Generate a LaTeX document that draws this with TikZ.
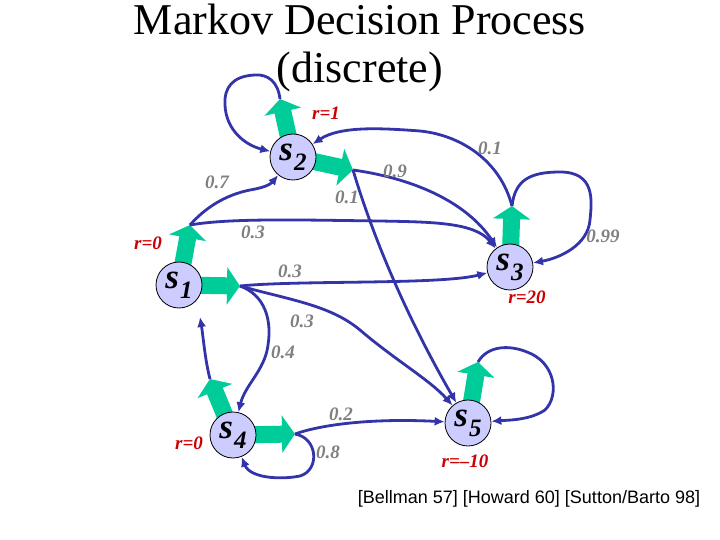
\documentclass[tikz,border=0pt]{standalone}
\usepackage{fontspec}
\setmainfont{Liberation Serif}
\newfontfamily\citefont{Liberation Sans}
\usetikzlibrary{arrows.meta}
\definecolor{stfill}{RGB}{204,204,255}
\definecolor{actgreen}{RGB}{0,204,153}
\definecolor{trblue}{RGB}{51,51,170}
\definecolor{probgray}{RGB}{128,128,128}
\definecolor{rewred}{RGB}{204,0,0}
\newcommand{\stlabel}[1]{\fontsize{35}{35}\selectfont\bfseries\itshape s\kern1pt\raisebox{-10pt}{\fontsize{25}{25}\selectfont #1}}
\tikzset{
  state/.style={circle, draw=black, line width=0.8pt, fill=stfill, minimum size=46pt, inner sep=0pt},
  action/.style={draw=actgreen, line width=17pt, -{Triangle[length=13pt,width=37pt]}},
  trans/.style={draw=trblue, line width=2.8pt, -{Latex[length=10pt,width=9pt]}},
  prob/.style={text=probgray, font=\fontsize{19}{19}\selectfont\bfseries\itshape, inner sep=0pt},
  rew/.style={text=rewred, font=\fontsize{19}{19}\selectfont\bfseries\itshape, inner sep=0pt},
  title/.style={font=\fontsize{44}{44}\selectfont, anchor=base, inner sep=0pt},
}
\begin{document}
\begin{tikzpicture}[x=1pt,y=-1pt]
\useasboundingbox (0,0) rectangle (720,540);
% title
\node[title] (t1) at (360,35) {Markov Decision Process};
\node[title] (t2) at (360,83) {(discrete)};
% state centres and action tips
\coordinate (c1) at (179,285);
\coordinate (c2) at (293,157);
\coordinate (c3) at (510,267);
\coordinate (c4) at (233,435);
\coordinate (c5) at (468,423);
\coordinate (a2u) at (280,99);
\coordinate (a2r) at (353,170);
\coordinate (a3u) at (512,206);
\coordinate (a1u) at (190,225);
\coordinate (a1r) at (240,286);
\coordinate (a4u) at (210,379);
\coordinate (a4r) at (295,434);
\coordinate (a5u) at (478,362);
\coordinate (e41) at (200,317);
% actions
\draw[action] (c2) -- (a2u);
\draw[action] (c2) -- (a2r);
\draw[action] (c3) -- (a3u);
\draw[action] (c1) -- (a1u);
\draw[action] (c1) -- (a1r);
\draw[action] (c4) -- (a4u);
\draw[action] (c4) -- (a4r);
\draw[action] (c5) -- (a5u);
% states
\node[state] (s1) at (c1) {\stlabel{1}};
\node[state] (s2) at (c2) {\stlabel{2}};
\node[state] (s3) at (c3) {\stlabel{3}};
\node[state] (s4) at (c4) {\stlabel{4}};
\node[state] (s5) at (c5) {\stlabel{5}};
% transitions
\draw[trans] (a2u) .. controls (278,82) and (268,74) .. (255,75) .. controls (232,76) and (224,88) .. (225,105) .. controls (226,130) and (245,145) .. (s2);
\draw[trans] (a2r) .. controls (410,178) and (465,200) .. (s3);
\draw[trans] (a2r) .. controls (380,260) and (420,340) .. (s5);
\draw[trans] (a3u) .. controls (500,160) and (460,135) .. (420,131) .. controls (380,128) and (340,126) .. (s2);
\draw[trans] (a3u) .. controls (515,180) and (530,172) .. (560,172) .. controls (595,172) and (592,200) .. (590,220) .. controls (588,245) and (560,258) .. (s3);
\draw[trans] (a1u) .. controls (205,208) and (225,195) .. (250,190) .. controls (262,188) and (270,185) .. (s2);
\draw[trans] (a1u) .. controls (230,218) and (300,220) .. (380,221) .. controls (430,222) and (475,222) .. (s3);
\draw[trans] (a1r) .. controls (300,280) and (440,285) .. (s3);
\draw[trans] (a1r) .. controls (290,300) and (330,305) .. (360,330) .. controls (395,360) and (430,380) .. (s5);
\draw[trans] (a1r) .. controls (265,295) and (272,320) .. (268,345) .. controls (265,370) and (245,385) .. (s4);
\draw[trans] (a4u) .. controls (205,360) and (203,335) .. (e41);
\draw[trans] (a4r) .. controls (320,425) and (370,418) .. (s5);
\draw[trans] (a4r) .. controls (318,438) and (320,470) .. (300,476) .. controls (280,480) and (250,478) .. (s4);
\draw[trans] (a5u) .. controls (488,345) and (510,345) .. (527,352) .. controls (555,362) and (560,395) .. (545,410) .. controls (530,420) and (510,420) .. (s5);
% probabilities
\node[prob] (p07) at (217,182) {0.7};
\node[prob] (p09) at (395,171) {0.9};
\node[prob] (p01a) at (347,197) {0.1};
\node[prob] (p01b) at (490,148) {0.1};
\node[prob] (p099) at (603,236) {0.99};
\node[prob] (p03a) at (253,232) {0.3};
\node[prob] (p03b) at (290,271) {0.3};
\node[prob] (p03c) at (302,321) {0.3};
\node[prob] (p04) at (283,352) {0.4};
\node[prob] (p02) at (341,414) {0.2};
\node[prob] (p08) at (328,452) {0.8};
% rewards
\node[rew] (r2) at (326,113) {r=1};
\node[rew] (r1) at (148,243) {r=0};
\node[rew] (r3) at (527,297) {r=20};
\node[rew] (r4) at (189,443) {r=0};
\node[rew] (r5) at (465,461) {r=\textendash10};
% citation
\node[font=\citefont\fontsize{18}{18}\selectfont, anchor=base, inner sep=0pt] (cite) at (529,503) {[Bellman 57] [Howard 60] [Sutton/Barto 98]};
\end{tikzpicture}
\end{document}
